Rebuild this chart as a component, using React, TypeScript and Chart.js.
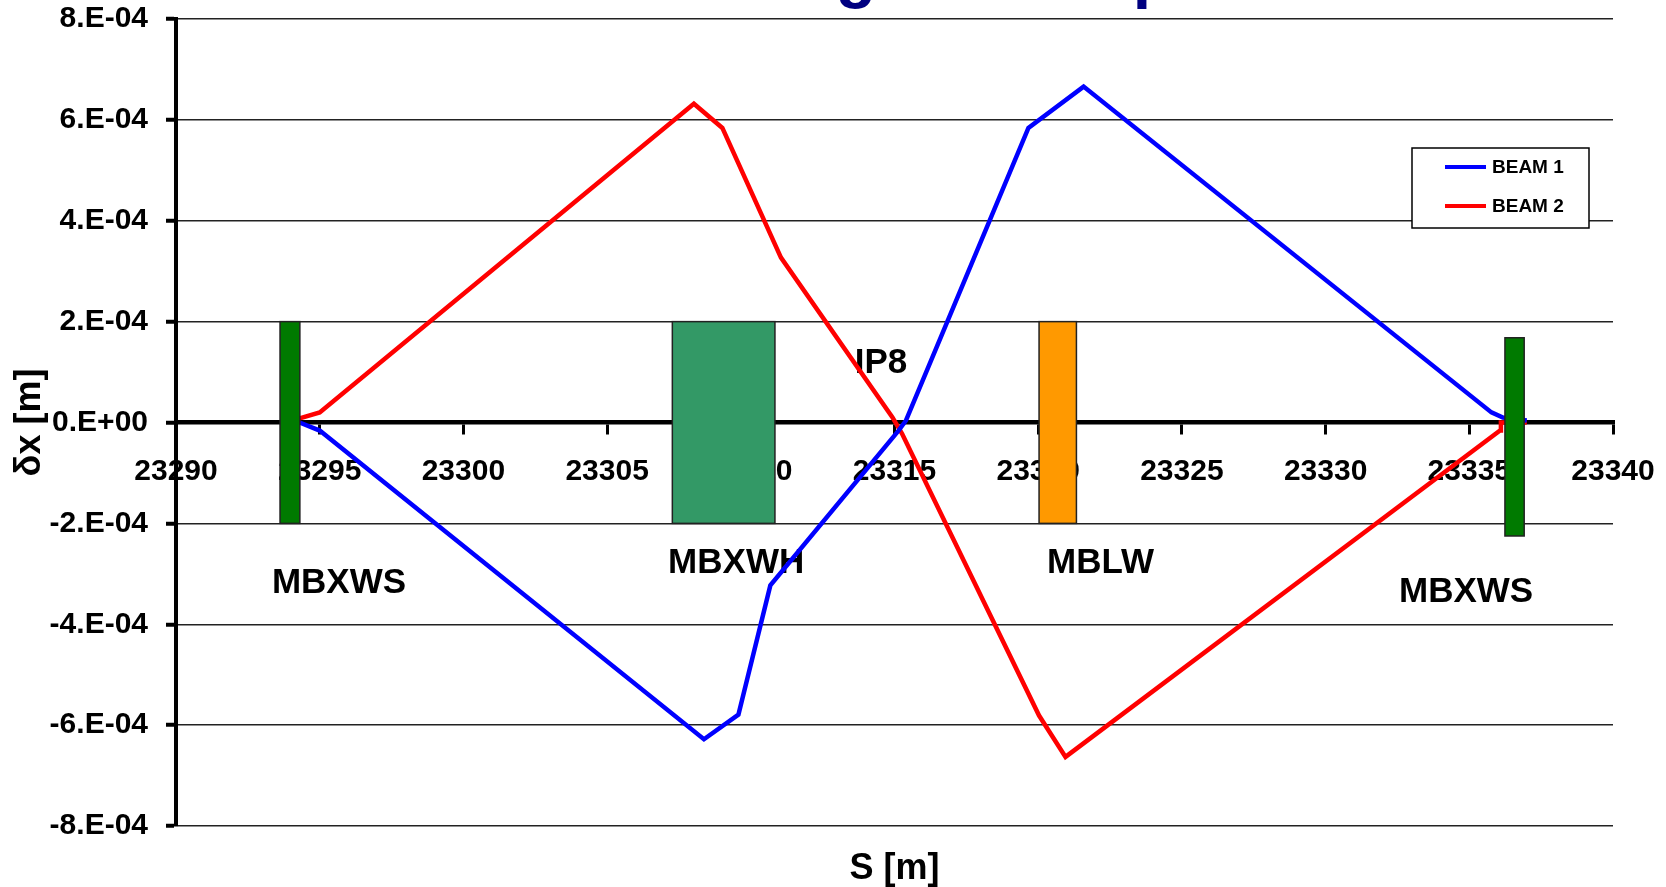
import React, { useEffect, useRef } from "react";
import { Chart, registerables } from "chart.js";

Chart.register(...registerables);

const FONT = '"Liberation Sans", Arial, Helvetica, sans-serif';

// ---- data ----
const chartTitle = "LHCb magnet bump";
const xAxisTitle = "S [m]";
const yAxisTitle = "δx [m]";

const sMin = 23290;
const sMax = 23340;
const sStep = 5;
const dxMin = -8e-4;
const dxMax = 8e-4;
const dxStep = 2e-4;

const beam1Label = "BEAM 1";
const beam1S = [23294.3, 23295.0, 23308.37, 23309.57, 23310.68, 23315.14, 23315.4, 23319.66, 23321.58, 23335.77, 23336.17, 23337.0];
const beam1Dx = [0, -0.16e-4, -6.28e-4, -5.79e-4, -3.23e-4, -0.16e-4, 0.04e-4, 5.84e-4, 6.66e-4, 0.2e-4, 0.1e-4, 0.04e-4];

const beam2Label = "BEAM 2";
const beam2S = [23294.3, 23295.0, 23308.02, 23309.01, 23311.05, 23314.93, 23315.26, 23320.03, 23320.95, 23336.07, 23336.1, 23337.0];
const beam2Dx = [0.08e-4, 0.2e-4, 6.32e-4, 5.84e-4, 3.27e-4, 0.1e-4, -0.22e-4, -5.81e-4, -6.63e-4, -0.16e-4, 0, 0];

const magnetNames = ["MBXWS", "MBXWH", "MBLW", "MBXWS"];
const magnetStart = [23293.62, 23307.27, 23320.03, 23336.24];
const magnetEnd = [23294.31, 23310.84, 23321.33, 23336.91];
const magnetTop = [2e-4, 2e-4, 2e-4, 1.68e-4];
const magnetBottom = [-2e-4, -2e-4, -2e-4, -2.25e-4];
const magnetColors = ["#007a00", "#339966", "#ff9900", "#007a00"];
const magnetLabelS = [23295.67, 23309.49, 23322.17, 23334.89];
const magnetLabelDx = [-3.19e-4, -2.8e-4, -2.8e-4, -3.37e-4];

const ipName = "IP8";
const ipS = 23314.53;
const ipDx = 1.17e-4;

function sci(v: number): string {
  if (Math.abs(v) < 1e-12) return "0.E+00";
  const e = Math.floor(Math.log10(Math.abs(v)) + 1e-9);
  const m = Math.round(v / Math.pow(10, e));
  const sign = e < 0 ? "-" : "+";
  return `${m}.E${sign}${String(Math.abs(e)).padStart(2, "0")}`;
}

const labelsPlugin = {
  id: "magnetLabels",
  beforeDatasetsDraw(chart: any) {
    const { ctx, scales } = chart;
    const x = scales.x, y = scales.y;
    ctx.save();
    ctx.fillStyle = "#000";
    ctx.font = `bold 35px ${FONT}`;
    ctx.textAlign = "center";
    ctx.textBaseline = "middle";
    magnetNames.forEach((n, i) => {
      ctx.fillText(n, x.getPixelForValue(magnetLabelS[i]), y.getPixelForValue(magnetLabelDx[i]));
    });
    ctx.fillText(ipName, x.getPixelForValue(ipS), y.getPixelForValue(ipDx));
    ctx.restore();
  },
};

const magnetsPlugin = {
  id: "magnets",
  afterDatasetsDraw(chart: any) {
    const { ctx, scales } = chart;
    const x = scales.x, y = scales.y;
    ctx.save();
    magnetNames.forEach((_, i) => {
      const x0 = x.getPixelForValue(magnetStart[i]);
      const x1 = x.getPixelForValue(magnetEnd[i]);
      const y0 = y.getPixelForValue(magnetTop[i]);
      const y1 = y.getPixelForValue(magnetBottom[i]);
      ctx.fillStyle = magnetColors[i];
      ctx.fillRect(x0, y0, x1 - x0, y1 - y0);
      ctx.strokeStyle = "#222";
      ctx.lineWidth = 1.5;
      ctx.strokeRect(x0, y0, x1 - x0, y1 - y0);
    });
    ctx.restore();
  },
};

const overlayPlugin = {
  id: "overlay",
  afterDraw(chart: any) {
    const { ctx } = chart;
    ctx.save();
    // partially visible title at the very top
    ctx.font = `bold 66px ${FONT}`;
    ctx.fillStyle = "#000080";
    ctx.textAlign = "left";
    ctx.textBaseline = "alphabetic";
    const gi = chartTitle.indexOf("g");
    const pre = ctx.measureText(chartTitle.slice(0, gi)).width;
    const gw = ctx.measureText("g").width;
    ctx.fillText(chartTitle, 856 - pre - gw / 2, -5);

    // legend
    const bx = 1412, by = 148, bw = 177, bh = 80;
    ctx.fillStyle = "#fff";
    ctx.fillRect(bx, by, bw, bh);
    ctx.strokeStyle = "#000";
    ctx.lineWidth = 1.5;
    ctx.strokeRect(bx, by, bw, bh);
    const items = chart.data.datasets;
    items.forEach((ds: any, i: number) => {
      const ly = by + 19 + i * 39;
      ctx.strokeStyle = ds.borderColor;
      ctx.lineWidth = 4;
      ctx.beginPath();
      ctx.moveTo(bx + 33, ly);
      ctx.lineTo(bx + 74, ly);
      ctx.stroke();
      ctx.fillStyle = "#000";
      ctx.font = `bold 19px ${FONT}`;
      ctx.textBaseline = "middle";
      ctx.fillText(ds.label, bx + 80, ly + 1);
    });
    ctx.restore();
  },
};

export default function App() {
  const ref = useRef<HTMLCanvasElement>(null);
  useEffect(() => {
    Chart.defaults.font.family = FONT;
    Chart.defaults.color = "#000";
    const chart = new Chart(ref.current as HTMLCanvasElement, {
      type: "scatter",
      data: {
        datasets: [
          {
            label: beam1Label,
            data: beam1S.map((s, i) => ({ x: s, y: beam1Dx[i] })),
            showLine: true,
            borderColor: "#0000ff",
            backgroundColor: "#0000ff",
            borderWidth: 4.5,
            pointRadius: 0,
            tension: 0,
          },
          {
            label: beam2Label,
            data: beam2S.map((s, i) => ({ x: s, y: beam2Dx[i] })),
            showLine: true,
            borderColor: "#ff0000",
            backgroundColor: "#ff0000",
            borderWidth: 4.5,
            pointRadius: 0,
            tension: 0,
          },
        ],
      },
      options: {
        animation: false,
        responsive: true,
        maintainAspectRatio: false,
        layout: { padding: { top: 19, right: 53, bottom: 0, left: 0 } },
        plugins: {
          legend: { display: false },
          tooltip: { enabled: false },
          title: {
            display: true,
            position: "bottom",
            fullSize: false,
            text: xAxisTitle,
            color: "#000",
            font: { size: 36, weight: "bold", family: FONT, lineHeight: 1 },
            padding: { top: 25, bottom: 0 },
          },
        },
        scales: {
          x: {
            type: "linear",
            position: { y: 0 } as any,
            min: sMin,
            max: sMax,
            afterFit: (s: any) => {
              s.paddingLeft = 0;
              s.paddingRight = 0;
            },
            ticks: {
              stepSize: sStep,
              callback: (v: any) => String(v),
              font: { size: 30, weight: "bold", family: FONT },
              color: "#000",
              padding: 21,
              maxRotation: 0,
              autoSkip: false,
            },
            grid: {
              drawOnChartArea: false,
              drawTicks: true,
              tickLength: 10,
              color: "#000",
              lineWidth: 3,
            },
            border: { display: true, color: "#000", width: 4.5 },
          },
          y: {
            type: "linear",
            min: dxMin,
            max: dxMax,
            afterFit: (s: any) => {
              s.width = 176;
              s.paddingTop = 0;
              s.paddingBottom = 0;
            },
            ticks: {
              stepSize: dxStep,
              callback: (v: any) => sci(Number(v)),
              font: { size: 30, weight: "bold", family: FONT },
              color: "#000",
              padding: 18,
            },
            grid: {
              color: "#222",
              lineWidth: 1.5,
              tickLength: 10,
              tickColor: "#000",
              tickWidth: 4,
            },
            border: { display: true, color: "#000", width: 4 },
            title: {
              display: true,
              text: yAxisTitle,
              color: "#000",
              font: { size: 36, weight: "bold", family: FONT },
              padding: { top: 8, bottom: 0 },
            },
          },
        },
      },
      plugins: [labelsPlugin, magnetsPlugin, overlayPlugin],
    } as any);
    return () => chart.destroy();
  }, []);
  return (
    <div style={{ position: "absolute", left: 0, top: 0, width: 1666, height: 887, background: "#fff" }}>
      <canvas ref={ref} />
    </div>
  );
}
